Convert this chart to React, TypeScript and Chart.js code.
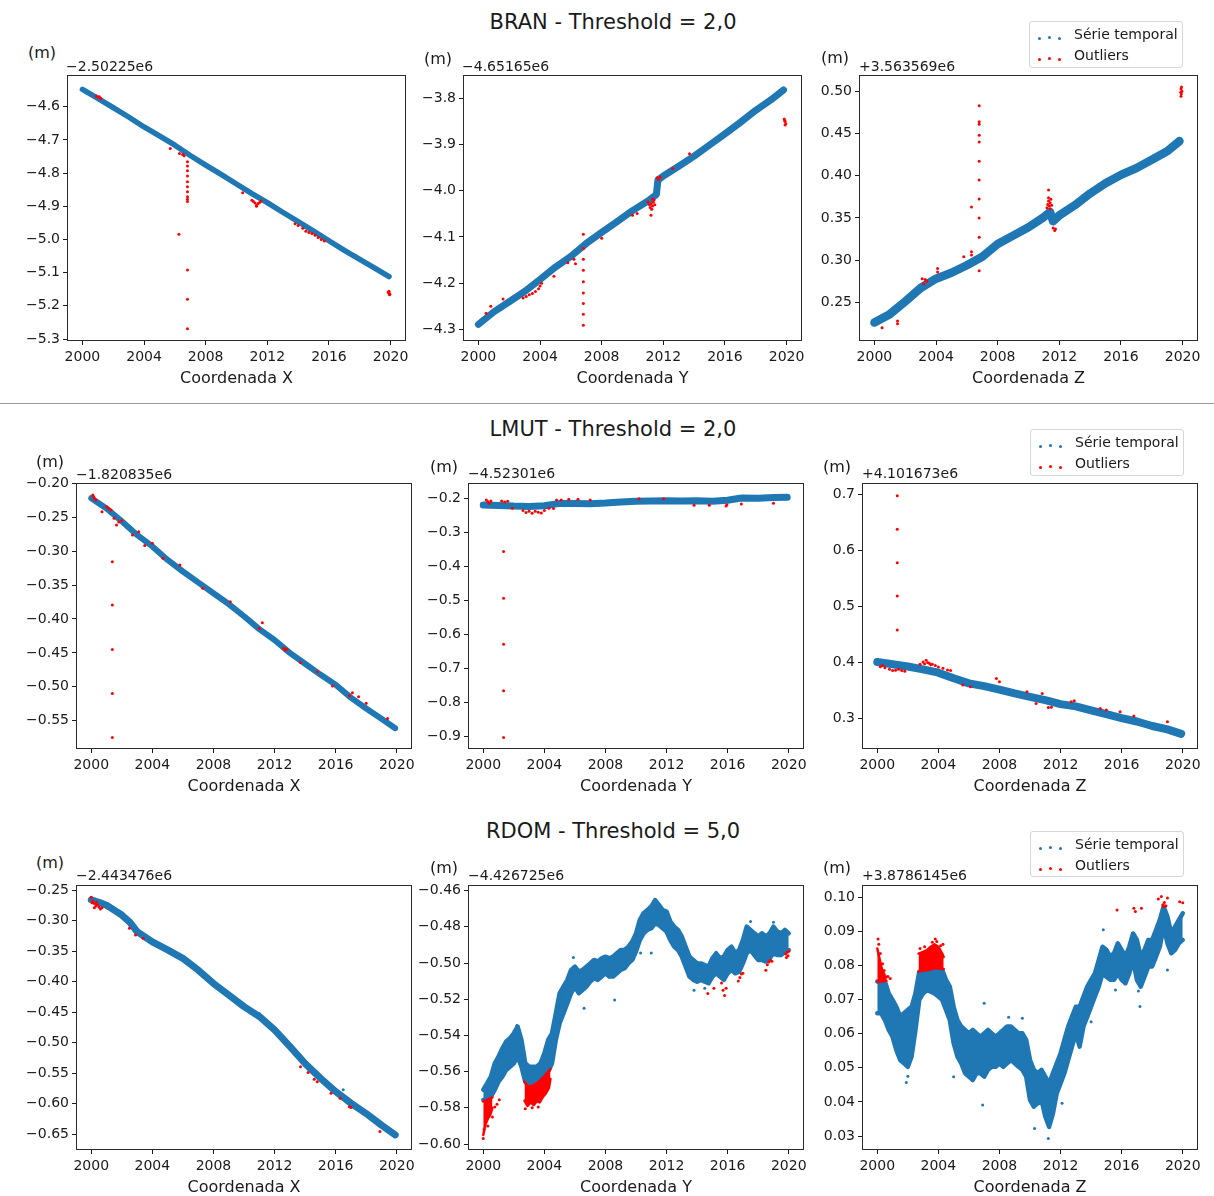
import React, { useEffect, useRef } from "react";
import { Chart, registerables } from "chart.js";

Chart.register(...registerables);

const FONT = '"DejaVu Sans", "Liberation Sans", sans-serif';
const BLUE = "#1f77b4";
const RED = "#ff0000";
const INK = "#1a1a1a";

// ---------- shared axis values ----------
const X_TICKS = [2000, 2004, 2008, 2012, 2016, 2020];
const YEARS = [2000, 2001, 2002, 2003, 2004, 2005, 2006, 2007, 2008, 2009, 2010, 2011, 2012, 2013, 2014, 2015, 2016, 2017, 2018, 2019, 2019.9];
const QUARTERS = [
  2000, 2000.25, 2000.5, 2000.75, 2001, 2001.25, 2001.5, 2001.75, 2002, 2002.25, 2002.5, 2002.75,
  2003, 2003.25, 2003.5, 2003.75, 2004, 2004.25, 2004.5, 2004.75, 2005, 2005.25, 2005.5, 2005.75,
  2006, 2006.25, 2006.5, 2006.75, 2007, 2007.25, 2007.5, 2007.75, 2008, 2008.25, 2008.5, 2008.75,
  2009, 2009.25, 2009.5, 2009.75, 2010, 2010.25, 2010.5, 2010.75, 2011, 2011.25, 2011.5, 2011.75,
  2012, 2012.25, 2012.5, 2012.75, 2013, 2013.25, 2013.5, 2013.75, 2014, 2014.25, 2014.5, 2014.75,
  2015, 2015.25, 2015.5, 2015.75, 2016, 2016.25, 2016.5, 2016.75, 2017, 2017.25, 2017.5, 2017.75,
  2018, 2018.25, 2018.5, 2018.75, 2019, 2019.25, 2019.5, 2019.75, 2020,
];

// ---------- BRAN ----------
const BRAN_X_T = YEARS;
const BRAN_X_V = [-4.548, -4.575, -4.603, -4.631, -4.661, -4.688, -4.716, -4.747, -4.776, -4.804, -4.833, -4.862, -4.889, -4.918, -4.946, -4.975, -5.004, -5.033, -5.06, -5.087, -5.112];
const BRAN_X_OUT: [number, number][] = [
  [2000.9, -4.568], [2001.0, -4.571], [2001.1, -4.57], [2001.2, -4.575],
  [2005.7, -4.726], [2006.3, -4.741], [2006.5, -4.744], [2006.6, -4.748],
  [2006.26, -4.984],
  [2006.82, -4.766], [2006.82, -4.779], [2006.82, -4.793], [2006.82, -4.809], [2006.82, -4.826],
  [2006.82, -4.841], [2006.82, -4.856], [2006.82, -4.871], [2006.82, -4.879], [2006.82, -4.886],
  [2006.82, -5.092], [2006.82, -5.18], [2006.82, -5.269],
  [2010.4, -4.859],
  [2011.0, -4.882], [2011.1, -4.886], [2011.2, -4.89], [2011.3, -4.897], [2011.4, -4.892], [2011.5, -4.889], [2011.6, -4.884], [2011.3, -4.9],
  [2013.8, -4.953], [2014.0, -4.958], [2014.3, -4.966], [2014.5, -4.975], [2014.7, -4.979], [2014.9, -4.982],
  [2015.1, -4.987], [2015.3, -4.994], [2015.5, -5.0], [2015.7, -5.005],
  [2019.85, -5.158], [2019.9, -5.162], [2019.95, -5.165], [2019.88, -5.16], [2019.93, -5.167], [2019.9, -5.156],
];
const BRAN_X_TICKS = [-4.6, -4.7, -4.8, -4.9, -5.0, -5.1, -5.2, -5.3];

const BRAN_Y_T = [2000, 2001, 2002, 2003, 2004, 2005, 2006, 2007, 2008, 2009, 2010, 2011, 2011.55, 2011.65, 2012, 2013, 2014, 2015, 2016, 2017, 2018, 2019, 2019.8];
const BRAN_Y_V = [-4.289, -4.262, -4.24, -4.218, -4.192, -4.165, -4.142, -4.114, -4.09, -4.067, -4.043, -4.022, -4.008, -3.977, -3.968, -3.947, -3.925, -3.901, -3.877, -3.852, -3.826, -3.803, -3.782];
const BRAN_Y_OUT: [number, number][] = [
  [2000.5, -4.265], [2000.8, -4.25], [2001.6, -4.234],
  [2002.9, -4.232], [2003.1, -4.229], [2003.3, -4.225], [2003.5, -4.222], [2003.7, -4.218], [2003.9, -4.212], [2004.0, -4.206], [2004.1, -4.2],
  [2004.9, -4.185], [2005.8, -4.156], [2006.2, -4.148], [2006.3, -4.158],
  [2006.81, -4.094], [2006.81, -4.125], [2006.81, -4.148], [2006.81, -4.172], [2006.81, -4.197],
  [2006.81, -4.221], [2006.81, -4.244], [2006.81, -4.267], [2006.81, -4.291],
  [2008.0, -4.103], [2010.0, -4.053], [2010.3, -4.049],
  [2011.0, -4.024], [2011.1, -4.03], [2011.15, -4.036], [2011.2, -4.028], [2011.25, -4.04], [2011.3, -4.033],
  [2011.35, -4.025], [2011.4, -4.02], [2011.45, -4.03], [2011.2, -4.053], [2011.3, -4.018],
  [2011.6, -3.972], [2011.7, -3.975], [2011.8, -3.97],
  [2012.6, -3.952], [2013.7, -3.92],
  [2019.85, -3.845], [2019.9, -3.85], [2019.95, -3.855], [2019.9, -3.858], [2019.88, -3.848],
];
const BRAN_Y_TICKS = [-3.8, -3.9, -4.0, -4.1, -4.2, -4.3];

const BRAN_Z_T = [2000, 2001, 2002, 2003, 2004, 2005, 2006, 2007, 2008, 2009, 2010, 2011, 2011.4, 2011.6, 2012, 2013, 2014, 2015, 2016, 2017, 2018, 2019, 2019.8];
const BRAN_Z_V = [0.226, 0.236, 0.251, 0.267, 0.278, 0.285, 0.294, 0.304, 0.319, 0.329, 0.339, 0.351, 0.357, 0.346, 0.353, 0.365, 0.379, 0.391, 0.401, 0.409, 0.419, 0.429, 0.441];
const BRAN_Z_OUT: [number, number][] = [
  [2000.5, 0.22], [2001.5, 0.228], [2001.5, 0.2245],
  [2003.1, 0.278], [2003.2, 0.272], [2003.3, 0.277], [2003.4, 0.275],
  [2004.1, 0.29], [2004.1, 0.286], [2005.8, 0.304], [2006.3, 0.31], [2006.3, 0.306], [2006.3, 0.363],
  [2006.8, 0.483], [2006.8, 0.464], [2006.8, 0.461], [2006.8, 0.448], [2006.8, 0.44], [2006.8, 0.417],
  [2006.8, 0.395], [2006.8, 0.3725], [2006.8, 0.35], [2006.8, 0.327], [2006.8, 0.2875],
  [2011.2, 0.362], [2011.25, 0.366], [2011.3, 0.37], [2011.35, 0.364], [2011.4, 0.368], [2011.45, 0.372],
  [2011.5, 0.365], [2011.3, 0.374], [2011.4, 0.361], [2011.3, 0.383],
  [2011.6, 0.338], [2011.7, 0.335], [2011.75, 0.337],
  [2019.9, 0.494], [2019.92, 0.497], [2019.95, 0.5], [2019.9, 0.503], [2019.93, 0.505], [2019.88, 0.499],
];
const BRAN_Z_TICKS = [0.25, 0.3, 0.35, 0.4, 0.45, 0.5];

// ---------- LMUT ----------
const LMUT_X_T = YEARS;
const LMUT_X_V = [-0.222, -0.237, -0.256, -0.276, -0.293, -0.313, -0.33, -0.346, -0.362, -0.378, -0.396, -0.415, -0.431, -0.45, -0.466, -0.482, -0.497, -0.516, -0.532, -0.547, -0.561];
const LMUT_X_OUT: [number, number][] = [
  [2000.1, -0.2172], [2000.15, -0.2195], [2000.2, -0.2221], [2000.3, -0.2246], [2000.7, -0.2418],
  [2001.0, -0.2344], [2001.15, -0.237], [2001.3, -0.2393], [2001.5, -0.2516], [2001.65, -0.2614],
  [2001.8, -0.257], [2002.0, -0.255], [2002.7, -0.276], [2003.1, -0.2713], [2003.5, -0.2915],
  [2004.0, -0.2885], [2004.7, -0.3106], [2005.8, -0.3204], [2007.3, -0.3548], [2009.1, -0.3745],
  [2011.0, -0.4139], [2011.2, -0.4055], [2012.6, -0.443], [2012.7, -0.4458], [2012.8, -0.4448],
  [2013.7, -0.464], [2014.8, -0.4778], [2015.8, -0.4989], [2016.9, -0.5131], [2017.1, -0.5088],
  [2017.5, -0.5146], [2018.0, -0.5244], [2019.4, -0.5466],
  [2001.38, -0.3155], [2001.38, -0.3794], [2001.38, -0.4449], [2001.38, -0.5098], [2001.38, -0.5747],
];
const LMUT_X_TICKS = [-0.2, -0.25, -0.3, -0.35, -0.4, -0.45, -0.5, -0.55];

const LMUT_Y_T = [2000, 2001, 2002, 2003, 2004, 2005, 2006, 2007, 2008, 2009, 2010, 2011, 2012, 2013, 2014, 2015, 2016, 2016.8, 2017, 2018, 2019, 2019.9];
const LMUT_Y_V = [-0.22, -0.221, -0.223, -0.224, -0.222, -0.215, -0.215, -0.216, -0.214, -0.211, -0.209, -0.208, -0.207, -0.208, -0.207, -0.209, -0.206, -0.2, -0.199, -0.2, -0.198, -0.197];
const LMUT_Y_OUT: [number, number][] = [
  [2000.2, -0.205], [2000.3, -0.21], [2000.4, -0.2147], [2000.5, -0.208], [2001.2, -0.208], [2001.4, -0.211],
  [2001.6, -0.209], [2001.9, -0.2295], [2002.6, -0.236], [2002.8, -0.242], [2003.0, -0.238], [2003.2, -0.244],
  [2003.4, -0.238], [2003.6, -0.241], [2003.8, -0.243], [2004.0, -0.236], [2004.3, -0.2295], [2004.6, -0.23],
  [2004.8, -0.205], [2005.1, -0.205], [2005.6, -0.203], [2006.2, -0.203], [2007.0, -0.205], [2010.2, -0.201],
  [2011.8, -0.201], [2013.8, -0.2206], [2014.8, -0.2206], [2015.9, -0.2226], [2015.95, -0.219], [2016.9, -0.2167],
  [2019.0, -0.2147],
  [2001.33, -0.357], [2001.33, -0.4945], [2001.33, -0.63], [2001.33, -0.7665], [2001.33, -0.904],
];
const LMUT_Y_TICKS = [-0.2, -0.3, -0.4, -0.5, -0.6, -0.7, -0.8, -0.9];

const LMUT_Z_T = YEARS;
const LMUT_Z_V = [0.401, 0.397, 0.393, 0.388, 0.382, 0.372, 0.363, 0.358, 0.352, 0.345, 0.339, 0.333, 0.326, 0.322, 0.315, 0.308, 0.301, 0.295, 0.287, 0.281, 0.273];
const LMUT_Z_OUT: [number, number][] = [
  [2000.2, 0.3927], [2000.35, 0.395], [2000.5, 0.391], [2000.8, 0.388], [2001.0, 0.386], [2001.2, 0.3865],
  [2001.4, 0.388], [2001.6, 0.386], [2001.8, 0.3845], [2002.8, 0.397], [2003.0, 0.401], [2003.1, 0.398],
  [2003.2, 0.404], [2003.3, 0.4], [2003.4, 0.399], [2003.5, 0.396], [2003.6, 0.397], [2003.8, 0.395],
  [2004.0, 0.392], [2004.3, 0.39], [2004.6, 0.387], [2004.8, 0.386], [2005.6, 0.36], [2006.1, 0.357],
  [2007.8, 0.3719], [2008.0, 0.366], [2009.8, 0.3481], [2010.4, 0.3273], [2010.8, 0.3451], [2011.2, 0.3202],
  [2011.4, 0.3205], [2012.7, 0.3303], [2012.9, 0.3321], [2014.6, 0.3184], [2015.0, 0.3154], [2015.9, 0.3125],
  [2016.8, 0.3047], [2019.0, 0.2946],
  [2001.31, 0.6976], [2001.31, 0.6376], [2001.31, 0.5781], [2001.31, 0.5187], [2001.31, 0.4581],
];
const LMUT_Z_TICKS = [0.3, 0.4, 0.5, 0.6, 0.7];

// ---------- RDOM ----------
const RDOM_X_T = [2000, 2000.5, 2001, 2001.5, 2002, 2002.5, 2003, 2004, 2005, 2006, 2007, 2008, 2009, 2010, 2011, 2012, 2013, 2014, 2015, 2016, 2017, 2018, 2019, 2019.9];
const RDOM_X_V = [-0.266, -0.27, -0.275, -0.283, -0.291, -0.302, -0.318, -0.335, -0.348, -0.362, -0.381, -0.403, -0.422, -0.441, -0.457, -0.479, -0.506, -0.534, -0.558, -0.58, -0.599, -0.616, -0.635, -0.651];
const RDOM_X_OUT: [number, number][] = [
  [2000.0, -0.262], [2000.05, -0.271], [2000.1, -0.268], [2000.2, -0.272], [2000.2, -0.279], [2000.3, -0.276],
  [2000.35, -0.27], [2000.4, -0.274], [2000.5, -0.278], [2000.6, -0.281], [2000.7, -0.279],
  [2002.5, -0.3128], [2002.9, -0.3237], [2003.4, -0.3291], [2013.7, -0.5392], [2014.2, -0.549],
  [2014.6, -0.56], [2014.8, -0.5638], [2015.7, -0.5828], [2016.3, -0.591], [2016.9, -0.6047],
  [2017.0, -0.606], [2018.9, -0.6456],
];
const RDOM_X_STRAY: [number, number][] = [[2013.7, -0.527], [2016.5, -0.577], [2011.0, -0.452]];
const RDOM_X_TICKS = [-0.25, -0.3, -0.35, -0.4, -0.45, -0.5, -0.55, -0.6, -0.65];

const RDOM_Y_HI = [
  -0.57, -0.5665, -0.5628, -0.5554, -0.5517, -0.5471, -0.5434, -0.5416, -0.5388, -0.5352, -0.5425, -0.5554,
  -0.5573, -0.5573, -0.5573, -0.5554, -0.5499, -0.5425, -0.5388, -0.5278, -0.5167, -0.513, -0.5094, -0.5038,
  -0.502, -0.5048, -0.5038, -0.502, -0.5002, -0.4983, -0.4992, -0.4974, -0.4965, -0.4974, -0.4965, -0.4946,
  -0.4928, -0.4928, -0.491, -0.4882, -0.4836, -0.4762, -0.4725, -0.4707, -0.4688, -0.4652, -0.4679, -0.4707,
  -0.4716, -0.4771, -0.4799, -0.4817, -0.4854, -0.491, -0.4965, -0.4983, -0.5002, -0.5002, -0.5011, -0.502,
  -0.4974, -0.4946, -0.4974, -0.4965, -0.4928, -0.491, -0.4946, -0.4928, -0.4873, -0.4799, -0.4817, -0.4836,
  -0.4854, -0.4836, -0.4854, -0.4836, -0.4799, -0.4826, -0.4836, -0.4817, -0.4836,
];
const RDOM_Y_LO = [
  -0.5757, -0.5757, -0.5738, -0.5701, -0.5655, -0.5628, -0.5591, -0.5573, -0.5554, -0.5517, -0.5573, -0.5655,
  -0.5683, -0.5683, -0.5665, -0.5646, -0.5628, -0.56, -0.5554, -0.5425, -0.5333, -0.5278, -0.5223, -0.5167,
  -0.513, -0.5167, -0.5149, -0.513, -0.5103, -0.5084, -0.5093, -0.5075, -0.5057, -0.5075, -0.5075, -0.5057,
  -0.5038, -0.5029, -0.5002, -0.4983, -0.4937, -0.4873, -0.4836, -0.4817, -0.4808, -0.4781, -0.479, -0.4808,
  -0.4827, -0.4873, -0.4909, -0.4928, -0.4965, -0.502, -0.5075, -0.5093, -0.5103, -0.5093, -0.5103, -0.5112,
  -0.5075, -0.5057, -0.5075, -0.5093, -0.5057, -0.5038, -0.5057, -0.5048, -0.5002, -0.4946, -0.4928, -0.4956,
  -0.4983, -0.4983, -0.4992, -0.4974, -0.4946, -0.4956, -0.4956, -0.4937, -0.4928,
];
const RDOM_Y_RED_A_T = [2000.0, 2000.15, 2000.3, 2000.45, 2000.6];
const RDOM_Y_RED_A_HI = [-0.5765, -0.576, -0.5755, -0.5748, -0.5742];
const RDOM_Y_RED_A_LO = [-0.595, -0.589, -0.586, -0.584, -0.58];
const RDOM_Y_RED_B_T = [2002.7, 2002.9, 2003.1, 2003.3, 2003.5, 2003.7, 2003.9, 2004.1, 2004.3, 2004.4];
const RDOM_Y_RED_B_HI = [-0.5655, -0.568, -0.568, -0.5675, -0.5665, -0.565, -0.5635, -0.5615, -0.5595, -0.5585];
const RDOM_Y_RED_B_LO = [-0.576, -0.579, -0.577, -0.5785, -0.5765, -0.577, -0.574, -0.572, -0.569, -0.564];
const RDOM_Y_OUT: [number, number][] = [
  [2000.0, -0.597], [2000.05, -0.592], [2000.3, -0.59], [2000.6, -0.585], [2000.75, -0.5795], [2000.9, -0.578],
  [2001.05, -0.5755], [2002.75, -0.5805], [2003.2, -0.58], [2003.6, -0.5795], [2014.7, -0.5168], [2015.1, -0.514],
  [2015.6, -0.511], [2015.7, -0.515], [2015.8, -0.518], [2015.9, -0.514], [2016.7, -0.51], [2016.8, -0.508],
  [2016.9, -0.506], [2017.0, -0.5057], [2018.5, -0.504], [2018.6, -0.501], [2018.7, -0.4995], [2018.8, -0.4985],
  [2018.9, -0.499], [2019.8, -0.495], [2019.85, -0.497], [2019.9, -0.494], [2019.95, -0.496], [2020.0, -0.4935],
];
const RDOM_Y_STRAY: [number, number][] = [
  [2001.9, -0.55], [2006.6, -0.525], [2008.6, -0.5205], [2010.3, -0.4945], [2011.0, -0.4945], [2012.7, -0.49],
  [2013.8, -0.515], [2014.5, -0.514], [2005.9, -0.497], [2017.5, -0.477], [2002.2, -0.5345], [2019.0, -0.4775],
];
const RDOM_Y_TICKS = [-0.46, -0.48, -0.5, -0.52, -0.54, -0.56, -0.58, -0.6];

const RDOM_Z_HI = [
  0.0753, 0.0748, 0.0753, 0.0718, 0.0699, 0.0679, 0.065, 0.066, 0.067, 0.0679, 0.0718, 0.0782,
  0.0785, 0.0785, 0.0789, 0.0792, 0.0792, 0.0787, 0.0758, 0.0738, 0.0679, 0.064, 0.0621, 0.0611,
  0.0601, 0.0611, 0.0601, 0.0591, 0.0601, 0.0611, 0.0601, 0.0591, 0.0601, 0.0611, 0.0621, 0.0621,
  0.0611, 0.0601, 0.0601, 0.0582, 0.0523, 0.0494, 0.0484, 0.0494, 0.0474, 0.0454, 0.0484, 0.0513,
  0.0542, 0.0582, 0.0621, 0.065, 0.0679, 0.0679, 0.0709, 0.0738, 0.0758, 0.0777, 0.0816, 0.0855,
  0.0846, 0.0826, 0.0836, 0.0865, 0.0846, 0.0826, 0.0855, 0.0894, 0.0875, 0.0826, 0.0846, 0.0875,
  0.0875, 0.0904, 0.0934, 0.0973, 0.0943, 0.0894, 0.0914, 0.0934, 0.0953,
];
const RDOM_Z_LO = [
  0.066, 0.066, 0.064, 0.0611, 0.0591, 0.0552, 0.0523, 0.0513, 0.0503, 0.0533, 0.0611, 0.0699,
  0.0718, 0.0728, 0.0723, 0.0718, 0.0709, 0.0699, 0.067, 0.064, 0.0572, 0.0533, 0.0513, 0.0484,
  0.0474, 0.0464, 0.0484, 0.0484, 0.0474, 0.0494, 0.0503, 0.0503, 0.0513, 0.0503, 0.0513, 0.0523,
  0.0513, 0.0503, 0.0494, 0.0474, 0.0406, 0.0386, 0.0396, 0.0406, 0.0357, 0.0327, 0.0366, 0.0425,
  0.0454, 0.0484, 0.0523, 0.0562, 0.0601, 0.0562, 0.0621, 0.065, 0.0679, 0.0709, 0.0738, 0.0777,
  0.0767, 0.0758, 0.0758, 0.0777, 0.0758, 0.0748, 0.0777, 0.0816, 0.0758, 0.0738, 0.0767, 0.0797,
  0.0797, 0.0826, 0.0855, 0.0914, 0.0865, 0.0836, 0.0846, 0.0865, 0.0875,
];
const RDOM_Z_RED_A_T = [2000.0, 2000.15, 2000.3, 2000.5, 2000.6];
const RDOM_Z_RED_A_HI = [0.085, 0.082, 0.079, 0.077, 0.0765];
const RDOM_Z_RED_A_LO = [0.0753, 0.0752, 0.0752, 0.0755, 0.0755];
const RDOM_Z_RED_B_T = [2002.7, 2003.0, 2003.25, 2003.5, 2003.75, 2004.0, 2004.25, 2004.35];
const RDOM_Z_RED_B_HI = [0.0835, 0.084, 0.0845, 0.0855, 0.0862, 0.0855, 0.0835, 0.0825];
const RDOM_Z_RED_B_LO = [0.0782, 0.0785, 0.0786, 0.0789, 0.0792, 0.0792, 0.079, 0.079];
const RDOM_Z_OUT: [number, number][] = [
  [2000.05, 0.0878], [2000.1, 0.0862], [2000.2, 0.0835], [2000.35, 0.0805], [2000.45, 0.0785], [2000.7, 0.0768],
  [2000.85, 0.0762], [2002.8, 0.085], [2003.1, 0.0855], [2003.6, 0.0868], [2003.8, 0.0878], [2003.9, 0.087],
  [2004.15, 0.0858], [2004.3, 0.0862], [2015.7, 0.0963], [2016.8, 0.0968], [2016.9, 0.0958], [2017.3, 0.0968],
  [2018.4, 0.0995], [2018.6, 0.1002], [2018.7, 0.0978], [2018.75, 0.0972], [2018.8, 0.0985], [2018.9, 0.0975],
  [2019.0, 0.0998], [2019.8, 0.0987], [2020.0, 0.0984],
];
const RDOM_Z_STRAY: [number, number][] = [
  [2001.9, 0.0457], [2007.0, 0.0689], [2006.9, 0.0391], [2010.3, 0.0322], [2011.2, 0.0293], [2009.5, 0.0645],
  [2012.1, 0.0396], [2014.0, 0.0635], [2015.6, 0.0728], [2017.2, 0.068], [2019.0, 0.0787], [2005.0, 0.0474],
  [2014.8, 0.0905], [2017.1, 0.0725], [2008.6, 0.0648], [2002.0, 0.0475],
];
const RDOM_Z_TICKS = [0.03, 0.04, 0.05, 0.06, 0.07, 0.08, 0.09, 0.1];

const ROW_TITLES = ["BRAN - Threshold = 2,0", "LMUT - Threshold = 2,0", "RDOM - Threshold = 5,0"];

// ---------- panel layout ----------
type Band = { t: number[]; hi: number[]; lo: number[] };
type Panel = {
  box: [number, number, number, number];
  xLabel: string;
  yRange: [number, number];
  yTicks: number[];
  decimals: number;
  offsetText: string;
  unitAt: [number, number];
  offsetAt: [number, number];
  line?: { t: number[]; v: number[]; width: number };
  bands?: Band[];
  redBands?: Band[];
  outliers: [number, number][];
  strays?: [number, number][];
};

const PANELS: Panel[] = [
  {
    box: [67, 75, 339, 266], xLabel: "Coordenada X", yRange: [-5.306, -4.5045], yTicks: BRAN_X_TICKS, decimals: 1,
    offsetText: "\u22122.50225e6", unitAt: [28, 53], offsetAt: [66, 66],
    line: { t: BRAN_X_T, v: BRAN_X_V, width: 5.5 }, outliers: BRAN_X_OUT,
  },
  {
    box: [463, 75, 339, 266], xLabel: "Coordenada Y", yRange: [-4.325, -3.7496], yTicks: BRAN_Y_TICKS, decimals: 1,
    offsetText: "\u22124.65165e6", unitAt: [424, 59], offsetAt: [462, 66],
    line: { t: BRAN_Y_T, v: BRAN_Y_V, width: 7 }, outliers: BRAN_Y_OUT,
  },
  {
    box: [859, 75, 339, 266], xLabel: "Coordenada Z", yRange: [0.2042, 0.5193], yTicks: BRAN_Z_TICKS, decimals: 2,
    offsetText: "+3.563569e6", unitAt: [821, 58], offsetAt: [859, 66],
    line: { t: BRAN_Z_T, v: BRAN_Z_V, width: 8.5 }, outliers: BRAN_Z_OUT,
  },
  {
    box: [76, 483, 336, 266], xLabel: "Coordenada X", yRange: [-0.5917, -0.1995], yTicks: LMUT_X_TICKS, decimals: 2,
    offsetText: "\u22121.820835e6", unitAt: [36, 462], offsetAt: [76, 474],
    line: { t: LMUT_X_T, v: LMUT_X_V, width: 6 }, outliers: LMUT_X_OUT,
  },
  {
    box: [468, 483, 336, 266], xLabel: "Coordenada Y", yRange: [-0.938, -0.155], yTicks: LMUT_Y_TICKS, decimals: 1,
    offsetText: "\u22124.52301e6", unitAt: [430, 467], offsetAt: [468, 473],
    line: { t: LMUT_Y_T, v: LMUT_Y_V, width: 7 }, outliers: LMUT_Y_OUT,
  },
  {
    box: [862, 483, 336, 266], xLabel: "Coordenada Z", yRange: [0.246, 0.7202], yTicks: LMUT_Z_TICKS, decimals: 1,
    offsetText: "+4.101673e6", unitAt: [823, 467], offsetAt: [862, 473],
    line: { t: LMUT_Z_T, v: LMUT_Z_V, width: 8 }, outliers: LMUT_Z_OUT,
  },
  {
    box: [76, 885, 336, 265], xLabel: "Coordenada X", yRange: [-0.6757, -0.2418], yTicks: RDOM_X_TICKS, decimals: 2,
    offsetText: "\u22122.443476e6", unitAt: [36, 863], offsetAt: [76, 875],
    line: { t: RDOM_X_T, v: RDOM_X_V, width: 7 }, outliers: RDOM_X_OUT, strays: RDOM_X_STRAY,
  },
  {
    box: [468, 885, 336, 265], xLabel: "Coordenada Y", yRange: [-0.6033, -0.4569], yTicks: RDOM_Y_TICKS, decimals: 2,
    offsetText: "\u22124.426725e6", unitAt: [430, 868], offsetAt: [468, 875],
    bands: [{ t: QUARTERS, hi: RDOM_Y_HI, lo: RDOM_Y_LO }],
    redBands: [
      { t: RDOM_Y_RED_A_T, hi: RDOM_Y_RED_A_HI, lo: RDOM_Y_RED_A_LO },
      { t: RDOM_Y_RED_B_T, hi: RDOM_Y_RED_B_HI, lo: RDOM_Y_RED_B_LO },
    ],
    outliers: RDOM_Y_OUT, strays: RDOM_Y_STRAY,
  },
  {
    box: [862, 885, 336, 265], xLabel: "Coordenada Z", yRange: [0.0259, 0.1036], yTicks: RDOM_Z_TICKS, decimals: 2,
    offsetText: "+3.8786145e6", unitAt: [823, 868], offsetAt: [862, 875],
    bands: [{ t: QUARTERS, hi: RDOM_Z_HI, lo: RDOM_Z_LO }],
    redBands: [
      { t: RDOM_Z_RED_A_T, hi: RDOM_Z_RED_A_HI, lo: RDOM_Z_RED_A_LO },
      { t: RDOM_Z_RED_B_T, hi: RDOM_Z_RED_B_HI, lo: RDOM_Z_RED_B_LO },
    ],
    outliers: RDOM_Z_OUT, strays: RDOM_Z_STRAY,
  },
];

const TITLE_Y = [23, 430, 832];
const LEGENDS: [number, number, number][] = [
  [1029, 21, 47],
  [1030, 429, 47],
  [1030, 831, 46],
];

const PAD_L = 62;
const PAD_T = 12;
const PAD_R = 12;
const PAD_B = 46;

const pts = (t: number[], v: number[]) => t.map((x, i) => ({ x, y: v[i] }));
const pairs = (list: [number, number][]) => list.map(([x, y]) => ({ x, y }));
const fmt = (v: number, d: number) => v.toFixed(d).replace("-", "\u2212");

// axes frame drawn above the data, like the spines of the source figure
const framePlugin = {
  id: "frame",
  afterDatasetsDraw(chart: any) {
    const { ctx, chartArea } = chart;
    const { left, top, right, bottom } = chartArea;
    ctx.save();
    ctx.strokeStyle = "#2b2b2b";
    ctx.lineWidth = 1;
    ctx.strokeRect(left + 0.5, top + 0.5, right - left - 1, bottom - top - 1);
    ctx.restore();
  },
};

// a dense cloud of daily positions, drawn as the area between its upper and lower edge
function bandDatasets(b: Band, color: string, order: number, edge: number) {
  const common = {
    type: "line",
    borderColor: color,
    backgroundColor: color,
    borderWidth: edge,
    borderJoinStyle: "round",
    borderCapStyle: "round",
    pointRadius: 0,
    tension: 0,
    order,
  };
  return [
    { ...common, data: pts(b.t, b.hi), fill: "+1" },
    { ...common, data: pts(b.t, b.lo), fill: false },
  ];
}

function buildConfig(p: Panel): any {
  const datasets: any[] = [];
  datasets.push({
    type: "scatter",
    data: pairs(p.outliers),
    backgroundColor: RED,
    borderWidth: 0,
    pointRadius: 1.5,
    order: 0,
  });
  (p.redBands || []).forEach((b) => datasets.push(...bandDatasets(b, RED, 1, 2.5)));
  if (p.strays) {
    datasets.push({
      type: "scatter",
      data: pairs(p.strays),
      backgroundColor: BLUE,
      borderWidth: 0,
      pointRadius: 1.5,
      order: 3,
    });
  }
  (p.bands || []).forEach((b) => datasets.push(...bandDatasets(b, BLUE, 4, 4.5)));
  if (p.line) {
    datasets.push({
      type: "line",
      data: pts(p.line.t, p.line.v),
      borderColor: BLUE,
      borderWidth: p.line.width,
      borderCapStyle: "round",
      borderJoinStyle: "round",
      pointRadius: 0,
      fill: false,
      tension: 0,
      order: 4,
    });
  }

  const tickFont = { family: FONT, size: 14 };
  const gridStyle = { display: true, drawOnChartArea: false, drawTicks: true, tickLength: 4, color: INK, lineWidth: 1 };

  return {
    type: "scatter",
    data: { datasets },
    plugins: [framePlugin],
    options: {
      animation: false,
      responsive: false,
      devicePixelRatio: 1,
      events: [],
      layout: { autoPadding: false, padding: { left: 0, top: PAD_T, right: PAD_R, bottom: 0 } },
      plugins: { legend: { display: false }, tooltip: { enabled: false } },
      scales: {
        x: {
          type: "linear",
          min: 1999,
          max: 2021,
          afterBuildTicks: (s: any) => {
            s.ticks = X_TICKS.map((value) => ({ value }));
          },
          afterFit: (s: any) => {
            s.height = PAD_B;
          },
          grid: gridStyle,
          border: { display: false },
          ticks: {
            font: tickFont,
            color: INK,
            padding: 4,
            maxRotation: 0,
            autoSkip: false,
            callback: (v: number) => String(v),
          },
          title: {
            display: true,
            text: p.xLabel,
            color: INK,
            font: { family: FONT, size: 16 },
            padding: { top: 0, bottom: -1 },
          },
        },
        y: {
          type: "linear",
          min: p.yRange[0],
          max: p.yRange[1],
          afterBuildTicks: (s: any) => {
            s.ticks = p.yTicks.map((value) => ({ value }));
          },
          afterFit: (s: any) => {
            s.width = PAD_L;
          },
          grid: gridStyle,
          border: { display: false },
          ticks: {
            font: tickFont,
            color: INK,
            padding: 3,
            autoSkip: false,
            callback: (v: number) => fmt(v, p.decimals),
          },
        },
      },
    },
  };
}

function PanelChart({ p }: { p: Panel }) {
  const ref = useRef<HTMLCanvasElement>(null);
  useEffect(() => {
    if (!ref.current) return;
    const chart = new Chart(ref.current, buildConfig(p));
    return () => chart.destroy();
  }, [p]);
  const [l, t, w, h] = p.box;
  const cw = w + PAD_L + PAD_R;
  const ch = h + PAD_T + PAD_B;
  return (
    <canvas
      ref={ref}
      width={cw}
      height={ch}
      style={{ position: "absolute", left: l - PAD_L, top: t - PAD_T, width: cw, height: ch }}
    />
  );
}

const textStyle = (size: number): React.CSSProperties => ({
  position: "absolute",
  fontFamily: FONT,
  fontSize: size,
  color: INK,
  whiteSpace: "nowrap",
  lineHeight: 1.2,
  transform: "translateY(-50%)",
});

function Legend({ left, top, height }: { left: number; top: number; height: number }) {
  const row = (label: string, color: string, y: number) => (
    <React.Fragment key={label}>
      {[9, 19, 29].map((dx, i) => (
        <span
          key={dx}
          style={{
            position: "absolute",
            left: dx - 1.5,
            top: y + (i === 1 ? 3 : 4) - 1.5,
            width: 3,
            height: 3,
            borderRadius: "50%",
            background: color,
          }}
        />
      ))}
      <div style={{ ...textStyle(14), left: 44, top: y }}>{label}</div>
    </React.Fragment>
  );
  return (
    <div
      style={{
        position: "absolute",
        left,
        top,
        width: 154,
        height,
        boxSizing: "border-box",
        border: "1px solid #d6d6d6",
        borderRadius: 3,
        background: "rgba(255,255,255,0.8)",
      }}
    >
      {row("Série temporal", BLUE, 12)}
      {row("Outliers", RED, 33)}
    </div>
  );
}

export default function App() {
  return (
    <div
      style={{
        position: "absolute",
        left: 0,
        top: 0,
        width: 1214,
        height: 1196,
        overflow: "hidden",
        background: "#fff",
      }}
    >
      {PANELS.map((p, i) => (
        <PanelChart key={i} p={p} />
      ))}
      <div style={{ position: "absolute", left: 0, top: 403, width: 1214, height: 1, background: "#9a9a9a" }} />
      {ROW_TITLES.map((title, i) => (
        <div
          key={title}
          style={{ ...textStyle(21), left: 613, top: TITLE_Y[i], transform: "translate(-50%, -50%)" }}
        >
          {title}
        </div>
      ))}
      {PANELS.map((p, i) => (
        <React.Fragment key={"lbl" + i}>
          <div style={{ ...textStyle(16), left: p.unitAt[0], top: p.unitAt[1] }}>(m)</div>
          <div style={{ ...textStyle(14), left: p.offsetAt[0], top: p.offsetAt[1] }}>{p.offsetText}</div>
        </React.Fragment>
      ))}
      {LEGENDS.map(([l, t, h], i) => (
        <Legend key={i} left={l} top={t} height={h} />
      ))}
    </div>
  );
}
